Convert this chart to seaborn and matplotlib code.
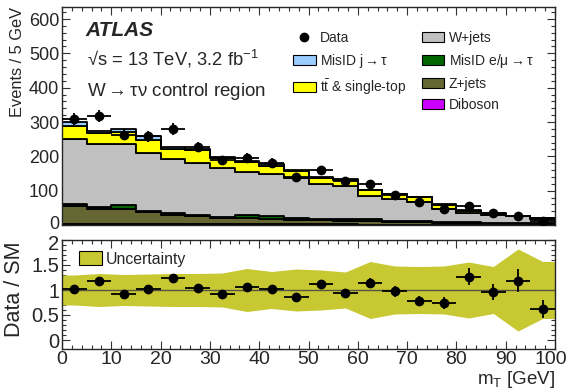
import numpy as np
import pandas as pd
import matplotlib
matplotlib.use("Agg")
import matplotlib.pyplot as plt
import matplotlib.transforms as mtransforms
import seaborn as sns
from matplotlib.patches import Patch
from matplotlib.lines import Line2D
from matplotlib.ticker import MultipleLocator, FixedLocator, FuncFormatter

# ---------------- data ----------------
bin_edges = list(range(0, 101, 5))
bin_centers = [e + 2.5 for e in bin_edges[:-1]]
bin_halfwidth = 2.5
x_ticks = list(range(0, 101, 10))

data_counts = [309, 318, 263, 258, 279, 227, 188, 196, 181, 140,
               159, 127, 118, 88, 68, 46, 54, 36, 27, 13]
data_err = [18, 18, 16, 16, 17, 15, 14, 14, 13, 12,
            13, 11, 11, 9, 8, 7, 7, 6, 5, 4]

diboson = [4, 4, 4, 3, 3, 3, 3, 2, 2, 2, 2, 2, 1, 1, 1, 1, 1, 1, 1, 1]
zjets = [50, 42, 42, 34, 27, 23, 18, 18, 16, 13, 12, 11, 10, 8, 7, 5, 5, 4, 4, 3]
misid_emu = [8, 6, 13, 5, 4, 3, 3, 9, 8, 5, 4, 5, 7, 3, 3, 2, 2, 2, 2, 2]
wjets = [188, 183, 178, 169, 157, 152, 143, 125, 123, 117,
         100, 95, 67, 63, 55, 39, 26, 22, 18, 12]
ttbar = [39, 33, 34, 37, 30, 37, 28, 29, 24, 19, 19, 17, 16, 15, 15, 12, 7, 4, 1, 1]
misid_j = [12, 5, 10, 10, 5, 4, 4, 3, 6, 3, 3, 5, 2, 1, 2, 3, 3, 2, 1, 1]

ratio = [1.03, 1.19, 0.93, 1.03, 1.24, 1.05, 0.93, 1.06, 1.03, 0.87,
         1.12, 0.94, 1.15, 0.98, 0.79, 0.75, 1.27, 0.97, 1.19, 0.63]
ratio_err = [0.06, 0.07, 0.06, 0.06, 0.07, 0.07, 0.07, 0.08, 0.08, 0.08,
             0.09, 0.09, 0.10, 0.11, 0.10, 0.12, 0.17, 0.16, 0.23, 0.18]
unc_half = [0.30, 0.33, 0.31, 0.32, 0.33, 0.33, 0.34, 0.43, 0.37, 0.42,
            0.40, 0.36, 0.57, 0.48, 0.47, 0.48, 0.56, 0.47, 0.82, 0.57]

process_names = ["MisID j → τ", "tt & single-top", "W+jets",
                 "MisID e/μ → τ", "Z+jets", "Diboson"]   # top -> bottom
process_values = [misid_j, ttbar, wjets, misid_emu, zjets, diboson]
process_colors = ["#99ccff", "#ffff00", "#c0c0c0", "#006600", "#666633", "#cc00ff"]

# ---------------- style ----------------
sns.set_theme(style="ticks")
plt.rcParams["font.family"] = ["Liberation Sans", "DejaVu Sans"]
plt.rcParams["mathtext.fontset"] = "custom"
plt.rcParams["mathtext.rm"] = "Liberation Sans"
plt.rcParams["mathtext.it"] = "Liberation Sans:italic"
plt.rcParams["axes.linewidth"] = 1.0

W, H = 569, 390
fig = plt.figure(figsize=(W / 100, H / 100), dpi=100)

def fx(px):
    return px / W

def fy(py):
    return 1 - py / H

def nudge(label, dx_px, dy_px):
    label.set_transform(label.get_transform() +
                        mtransforms.ScaledTranslation(dx_px / 100, dy_px / 100,
                                                      fig.dpi_scale_trans))

ax = fig.add_axes([fx(62), fy(225), fx(555) - fx(62), fy(7) - fy(225)])
axr = fig.add_axes([fx(62), fy(349), fx(555) - fx(62), fy(240) - fy(349)])

# ---------------- stacked histogram ----------------
rows = []
for name, vals in zip(process_names, process_values):
    for c, v in zip(bin_centers, vals):
        rows.append({"mT": float(c), "weight": float(v), "process": name})
df = pd.DataFrame(rows)

sns.histplot(data=df, x="mT", weights="weight", hue="process",
             hue_order=process_names, palette=dict(zip(process_names, process_colors)),
             bins=bin_edges, multiple="stack", element="step", fill=True,
             alpha=1, edgecolor="black", linewidth=1.3, legend=False, ax=ax)

ax.errorbar(bin_centers, data_counts, xerr=bin_halfwidth, yerr=data_err,
            fmt="o", color="black", ms=6, lw=1.3, capsize=0, zorder=10)

ax.set_xlim(0, 100)
ax.set_ylim(0, 635)
ax.set_xlabel("")
ax.set_ylabel("Events / 5 GeV", fontsize=11.8, loc="top")
ax.yaxis.set_label_coords(-0.076, 1.0)
ax.xaxis.set_major_locator(FixedLocator(x_ticks))
ax.xaxis.set_minor_locator(MultipleLocator(2))
ax.yaxis.set_major_locator(FixedLocator([0, 100, 200, 300, 400, 500, 600]))
ax.yaxis.set_minor_locator(MultipleLocator(20))
ax.tick_params(which="both", direction="in", top=True, right=True, labelbottom=False,
               labelsize=13, width=0.8, color="#333333", pad=2)
ax.tick_params(which="major", length=6)
ax.tick_params(which="minor", length=3)

# text
fig.text(fx(85), fy(30), "ATLAS", fontsize=15, fontweight="bold", fontstyle="italic",
         va="center", ha="left")
fig.text(fx(87), fy(59), "√s = 13 TeV, 3.2 fb$^{-1}$", fontsize=13.2, va="center", ha="left",
         family=["Liberation Sans", "DejaVu Sans"])
fig.text(fx(87), fy(92), r"W$\rightarrow$τν control region", fontsize=13.5,
         va="center", ha="left", family=["Liberation Sans", "DejaVu Sans"])

# legend
def box(c):
    return Patch(facecolor=c, edgecolor="black", linewidth=0.8)

handles = [Line2D([], [], marker="o", color="black", ls="none", ms=6),
           box(process_colors[0]), box(process_colors[1]), Patch(alpha=0),
           box(process_colors[2]), box(process_colors[3]), box(process_colors[4]),
           box(process_colors[5])]
labels = ["Data", r"MisID j$\rightarrow$τ", r"t$\mathrm{\bar{t}}$ & single-top", "",
          "W+jets", r"MisID e/μ$\rightarrow$τ", "Z+jets", "Diboson"]
ax.legend(handles, labels, ncol=2, loc="upper left",
          bbox_to_anchor=(fx(293), fy(31)), bbox_transform=fig.transFigure,
          frameon=False, fontsize=10, handlelength=1.65, handleheight=0.75,
          handletextpad=0.3, columnspacing=1.1, labelspacing=0.5, borderpad=0,
          borderaxespad=0)

# ---------------- ratio panel ----------------
band_x = [0] + bin_centers + [100]
band_h = np.array([unc_half[0]] + unc_half + [unc_half[-1]])
band_col = "#c8c832"
axr.fill_between(band_x, 1 - band_h, 1 + band_h, color=band_col, lw=0, zorder=1)
axr.axhline(1, color="#555544", lw=1.0, zorder=2)
axr.errorbar(bin_centers, ratio, xerr=bin_halfwidth, yerr=ratio_err,
             fmt="o", color="black", ms=6, lw=1.3, capsize=0, zorder=10)

axr.set_xlim(0, 100)
axr.set_ylim(-0.18, 2.0)
axr.xaxis.set_major_locator(FixedLocator(x_ticks))
axr.xaxis.set_minor_locator(MultipleLocator(2))
axr.yaxis.set_major_locator(FixedLocator([0, 0.5, 1, 1.5, 2]))
axr.yaxis.set_minor_locator(FixedLocator([v / 10 for v in range(0, 21)]))
axr.yaxis.set_major_formatter(FuncFormatter(lambda v, p: f"{v:g}"))
axr.tick_params(which="both", direction="in", top=True, right=True,
                width=0.8, color="#333333", pad=2)
axr.tick_params(axis="y", labelsize=14.5)
axr.tick_params(axis="x", labelsize=14, pad=1.5)
axr.tick_params(which="major", length=6)
axr.tick_params(which="minor", length=3)
axr.set_ylabel("Data / SM", fontsize=15.5)
axr.yaxis.set_label_coords(-0.076, 0.55)
axr.set_xlabel(r"m$_{\rm T}$ [GeV]", fontsize=13.5, loc="right")
axr.xaxis.set_label_coords(1.0, -0.185)

# keep edge labels inside the figure and apart from each other (as ROOT does)
nudge(axr.get_xticklabels()[-1], -4, 0)
nudge(axr.get_yticklabels()[-1], 0, -3)
nudge(ax.get_yticklabels()[0], 0, 2)

axr.legend([Patch(facecolor=band_col, edgecolor="black", linewidth=0.8)], ["Uncertainty"],
           loc="upper left", bbox_to_anchor=(fx(79), fy(251)), bbox_transform=fig.transFigure,
           frameon=False, fontsize=11.4, handlelength=1.45, handleheight=1.0,
           handletextpad=0.25, borderpad=0, borderaxespad=0)

fig.savefig("out.png", dpi=100)
